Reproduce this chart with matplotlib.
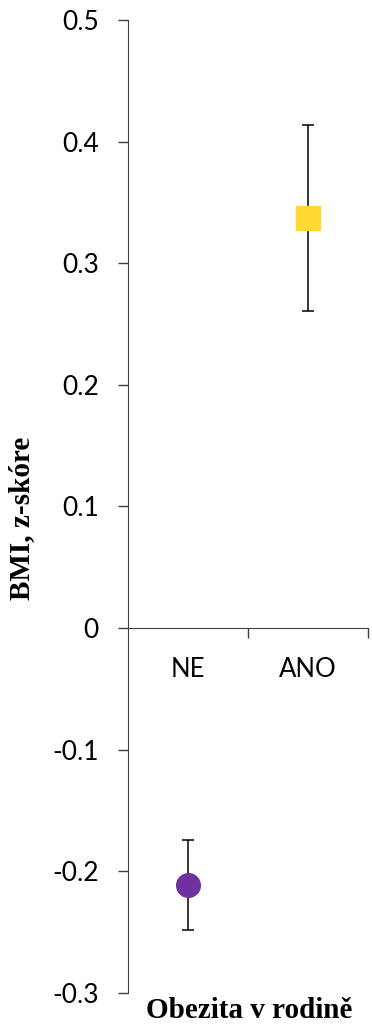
import matplotlib.pyplot as plt

# data
groups = ["NE", "ANO"]
means = [-0.211, 0.337]
lower = [-0.248, 0.261]
upper = [-0.174, 0.414]
colors = ["#7030A0", "#FFD92F"]
markers = ["o", "s"]
y_ticks = [-0.3, -0.2, -0.1, 0, 0.1, 0.2, 0.3, 0.4, 0.5]

fig = plt.figure(figsize=(3.72, 10.29), dpi=100)
ax = fig.add_axes([0.344, 0.035, 0.645, 0.9456])

pos = [1, 2]
for x, m, lo, hi, c, mk in zip(pos, means, lower, upper, colors, markers):
    ax.errorbar(x, m, yerr=[[m - lo], [hi - m]], fmt="none", ecolor="black",
                elinewidth=1.1, capsize=4.5, capthick=1.1, zorder=2)
    ax.plot(x, m, marker=mk, color=c, markersize=17, linestyle="none", zorder=3)

ax.set_xlim(0.5, 2.5)
ax.set_ylim(-0.3, 0.5)
ax.set_yticks(y_ticks)
ax.set_yticklabels([f"{v:g}" for v in y_ticks], family="Lato", fontsize=19)
ax.tick_params(axis="y", length=7, width=1, color="#404040", pad=14)

ax.spines["top"].set_visible(False)
ax.spines["right"].set_visible(False)
ax.spines["left"].set_color("#404040")
ax.spines["bottom"].set_color("#404040")
ax.spines["bottom"].set_position(("data", 0))

ax.set_xticks([1.5, 2.5])
ax.set_xticklabels(["", ""])
ax.set_xticks(pos, minor=True)
ax.set_xticklabels(groups, minor=True, family="Lato", fontsize=18.5)
ax.tick_params(axis="x", which="major", length=7, width=1, color="#404040")
ax.tick_params(axis="x", which="minor", length=0, pad=21)

fig.text(0.059, 0.496, "BMI, z-skóre", rotation=90, ha="center", va="center",
         family="Liberation Serif", fontweight="bold", fontsize=21)
fig.text(0.669, 0.018, "Obezita v rodině", ha="center", va="center",
         family="Liberation Serif", fontweight="bold", fontsize=21)

fig.savefig("out.png", dpi=100)
